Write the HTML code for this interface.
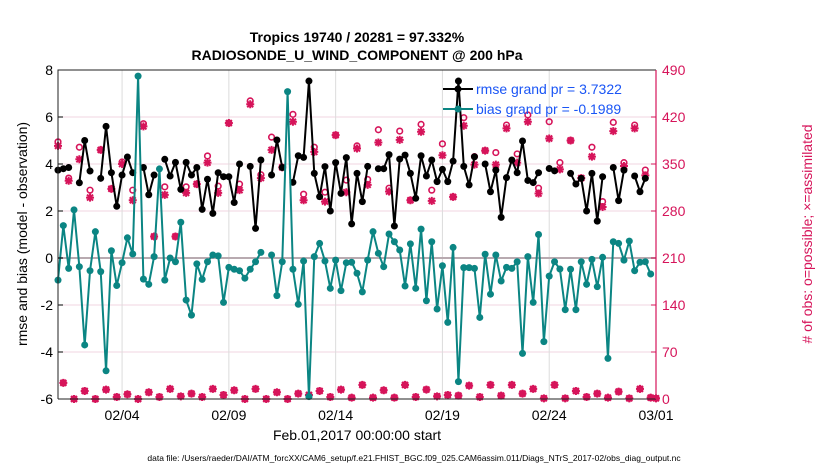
<!DOCTYPE html>
<html><head><meta charset="utf-8">
<style>
html,body{margin:0;padding:0;background:#fff;}
svg{display:block;font-family:"Liberation Sans",Arial,sans-serif;}
</style></head>
<body>
<svg id="chart" width="830" height="470" viewBox="0 0 830 470" xmlns="http://www.w3.org/2000/svg">
<text x="357" y="42" text-anchor="middle" font-size="14" font-weight="bold">Tropics 19740 / 20281 = 97.332%</text>
<text x="357" y="60" text-anchor="middle" font-size="14" font-weight="bold">RADIOSONDE_U_WIND_COMPONENT @ 200 hPa</text>
<g id="grid"></g>
<g id="marks"></g>
<g id="axes"></g>
<text transform="translate(27,234) rotate(-90)" text-anchor="middle" font-size="14">rmse and bias (model - observation)</text>
<text transform="translate(812,234) rotate(-90)" text-anchor="middle" font-size="14" fill="#d6145a"># of obs: o=possible; ×=assimilated</text>
<text x="357" y="440" text-anchor="middle" font-size="14">Feb.01,2017 00:00:00 start</text>
<text x="414" y="461" text-anchor="middle" font-size="8.5">data file: /Users/raeder/DAI/ATM_forcXX/CAM6_setup/f.e21.FHIST_BGC.f09_025.CAM6assim.011/Diags_NTrS_2017-02/obs_diag_output.nc</text>
<g id="legend">
  <line x1="443" y1="89" x2="473" y2="89" stroke="#000" stroke-width="2"/>
  <circle cx="458" cy="89" r="3.5" fill="#000"/>
  <text x="476" y="94" font-size="14" fill="#1a55f5">rmse grand pr = 3.7322</text>
  <line x1="443" y1="109" x2="473" y2="109" stroke="#0b8583" stroke-width="2"/>
  <circle cx="458" cy="109" r="3.5" fill="#0b8583"/>
  <text x="476" y="114" font-size="14" fill="#1a55f5">bias grand pr = -0.1989</text>
</g>
</svg>
<script>
const rmse=[3.74,3.8,3.85,null,3.2,5.0,3.7,null,3.39,5.6,3.63,2.2,3.53,4.3,3.63,null,3.85,2.69,3.53,null,4.2,3.49,4.07,2.92,4.07,3.53,3.85,2.07,3.35,1.9,3.63,3.46,3.46,2.36,4.0,null,3.9,1.26,4.17,null,3.53,5.02,3.85,null,3.22,4.35,4.28,7.53,3.6,2.61,3.89,2.0,4.06,2.75,4.27,1.45,3.6,2.4,3.9,null,3.8,3.8,4.4,1.36,4.21,4.38,3.6,2.54,4.35,3.49,4.17,3.25,3.77,3.25,4.12,7.53,3.9,3.11,4.31,null,4.0,2.82,3.74,1.73,3.42,4.17,3.63,4.98,3.3,3.21,3.63,null,3.81,3.71,null,null,3.6,3.15,3.39,2.0,3.6,1.57,3.46,null,3.85,2.44,3.74,null,3.49,2.82,3.39,null,null];
const bias=[-0.94,1.38,-0.44,2.05,-0.37,-3.7,-0.54,1.12,-0.58,-4.8,0.31,-1.17,-0.2,0.86,0.17,7.74,-0.9,-1.12,0.06,3.79,-0.94,0.0,-0.16,1.52,-1.79,-2.43,-0.25,-0.91,-0.16,0.13,0.09,-1.89,-0.4,-0.48,-0.54,-0.86,-0.48,-0.16,0.24,null,0.13,-1.6,-0.16,7.08,-0.48,-1.97,-0.13,-5.9,0.06,0.62,-0.13,-1.29,-0.09,-1.39,-0.2,-0.18,-0.65,-1.44,-0.09,1.12,0.2,-0.37,1.02,0.69,0.34,-1.19,0.6,-1.29,1.23,-1.82,0.69,-2.17,-0.33,-2.74,0.45,-5.26,-0.41,-0.41,-0.44,-2.53,0.16,-1.54,0.13,-0.98,-0.4,-0.44,-0.16,-4.06,0.06,-1.89,1.0,-3.56,-0.77,-0.16,-0.47,-2.2,-0.48,-2.2,-0.16,-1.12,-0.06,-1.22,0.03,-4.27,0.69,0.62,-0.09,0.72,-0.54,-0.18,-0.16,-0.68,null];
const possible=[383,24,329,0,375,12,311,0,371,14,313,3,353,7,311,0,410,10,242,3,316,15,242,4,316,8,320,3,362,15,317,6,411,13,320,0,444,15,334,0,390,10,345,0,424,8,305,6,375,12,308,3,393,14,326,2,377,21,327,2,401,13,314,2,399,21,296,3,409,14,311,4,380,6,301,5,419,20,361,3,370,21,367,5,408,21,365,8,423,15,314,1,413,21,352,1,385,12,329,3,375,8,294,2,412,11,352,1,408,15,341,2,1];
const assimilated=[377,24,325,0,357,12,300,0,371,14,313,3,350,7,296,0,406,10,242,3,304,15,242,4,307,8,320,3,352,15,307,6,411,13,311,0,439,15,329,0,371,10,345,0,413,8,296,6,368,12,294,3,393,14,308,2,373,21,319,2,382,13,309,2,386,21,296,3,398,14,295,4,363,6,301,5,407,20,349,3,370,21,349,5,403,21,352,8,413,15,306,1,388,21,342,1,385,12,329,3,361,8,286,2,399,11,347,1,403,15,333,2,1];
const leftTicks=[-6,-4,-2,0,2,4,6,8];
const rightTicks=[0,70,140,210,280,350,420,490];
const dateTicks=[3,8,13,18,23,28];
const dateLabels=["02/04","02/09","02/14","02/19","02/24","03/01"];
const stepDays=0.25;

const X0=58,X1=656,Y0=70,Y1=399;
const xs=d=>X0+(d/28)*(X1-X0);
const yL=v=>Y1-(v+6)/14*(Y1-Y0);
const yR=v=>Y1-v/490*(Y1-Y0);
const NS="http://www.w3.org/2000/svg";
function mk(tag,attrs,parent){const e=document.createElementNS(NS,tag);for(const k in attrs)e.setAttribute(k,attrs[k]);parent.appendChild(e);return e;}
const grid=document.getElementById('grid'),marks=document.getElementById('marks'),axes=document.getElementById('axes');
const PINK="#d6145a",TEAL="#0b8583";

leftTicks.forEach(t=>{
  if(t!==0&&t!==-6&&t!==8){const l=mk('line',{x1:X0,x2:X1,y1:yL(t),y2:yL(t),stroke:"#f0d4e0","stroke-width":1},grid);
  
  }
  const tx=mk('text',{x:X0-5,y:yL(t)+5,"text-anchor":"end","font-size":14},axes);tx.textContent=t;
  
  
  mk('line',{x1:X0,x2:X0+5,y1:yL(t),y2:yL(t),stroke:"#000"},axes);
});
dateTicks.forEach((d,i)=>{
  const l=mk('line',{x1:xs(d),x2:xs(d),y1:Y0,y2:Y1,stroke:"#dcdcdc","stroke-width":1},grid);
  
  
  const tx=mk('text',{x:xs(d),y:420,"text-anchor":"middle","font-size":14},axes);tx.textContent=dateLabels[i];
  
  
});
const zl=mk('line',{x1:X0,x2:X1,y1:yL(0),y2:yL(0),stroke:"#b8aab0","stroke-width":2},grid);


rightTicks.forEach(t=>{
  const tx=mk('text',{x:X1+6,y:yR(t)+5,"font-size":14,fill:PINK},axes);tx.textContent=t;
  
  
  mk('line',{x1:X1-5,x2:X1,y1:yR(t),y2:yR(t),stroke:PINK},axes);
});
mk('path',{d:`M${X0},${Y1}V${Y0}H${X1}M${X0},${Y1}H${X1}`,fill:"none",stroke:"#222","stroke-width":1},axes);
mk('line',{x1:X1,x2:X1,y1:Y0,y2:Y1,stroke:PINK,"stroke-width":1.2},axes);

possible.forEach((v,i)=>{
  const x=xs(i*stepDays),y=yR(v);
  const c=mk('circle',{cx:x,cy:y,r:2.8,fill:"none",stroke:PINK,"stroke-width":1.6},marks);
  
  
});
assimilated.forEach((v,i)=>{
  const x=xs(i*stepDays),y=yR(v),r=4;
  const p=mk('path',{d:`M${x-r},${y}H${x+r}M${x},${y-r}V${y+r}M${x-3},${y-3}L${x+3},${y+3}M${x-3},${y+3}L${x+3},${y-3}`,stroke:PINK,"stroke-width":2},marks);
  
  
});
function series(arr,color,name){
  let d="",pen=false;
  arr.forEach((v,i)=>{if(v===null){pen=false;return;}d+=(pen?"L":"M")+xs(i*stepDays)+","+yL(v);pen=true;});
  const p=mk('path',{d:d,fill:"none",stroke:color,"stroke-width":2,"stroke-linejoin":"round"},marks);
  
  
  arr.forEach((v,i)=>{if(v===null)return;
    const c=mk('circle',{cx:xs(i*stepDays),cy:yL(v),r:3.5,fill:color},marks);
    
    });
}
series(rmse,"#000","rmse");
series(bias,TEAL,"bias");
</script>
</body></html>
